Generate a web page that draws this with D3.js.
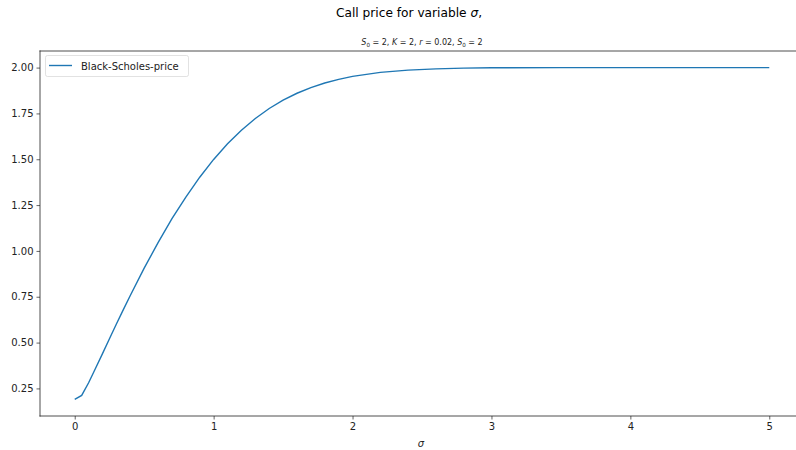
<!DOCTYPE html>
<html>
<head>
<meta charset="utf-8">
<script src="https://cdn.jsdelivr.net/npm/d3@7/dist/d3.min.js"></script>
<style>
  html, body { margin: 0; background: #fff; overflow: hidden; }
  svg { display: block; font-family: "DejaVu Sans", sans-serif; }
</style>
</head>
<body>
<svg id="chart"></svg>
<script>
// values
const sigma = [0, 0.05, 0.1, 0.15, 0.2, 0.25, 0.3, 0.35, 0.4, 0.5, 0.6, 0.7, 0.8, 0.9,
  1.0, 1.1, 1.2, 1.3, 1.4, 1.5, 1.6, 1.7, 1.8, 1.9, 2.0, 2.2, 2.4, 2.6, 2.8, 3.0, 3.5, 4.0, 4.5, 5.0];
const price = [0.190, 0.212, 0.281, 0.360, 0.440, 0.521, 0.601, 0.680, 0.757, 0.906, 1.045, 1.176, 1.294, 1.402,
  1.499, 1.584, 1.658, 1.722, 1.777, 1.822, 1.860, 1.891, 1.916, 1.936, 1.952, 1.974, 1.986, 1.993, 1.997, 1.999, 2.0, 2.0, 2.0, 2.0];
const xTicks = [0, 1, 2, 3, 4, 5];
const yTicks = [0.25, 0.5, 0.75, 1.0, 1.25, 1.5, 1.75, 2.0];

const width = 796, height = 450;
const margin = { top: 51, right: -8, bottom: 34, left: 40 };

const svg = d3.select("#chart").attr("width", width).attr("height", height);

const x = d3.scaleLinear().domain([-0.25, 5.25]).range([margin.left, width - margin.right]);
const pad = (d3.max(price) - d3.min(price)) * 0.05;
const y = d3.scaleLinear().domain([d3.min(price) - pad, d3.max(price) + pad])
  .range([height - margin.bottom, margin.top]);

// axes
const xAxis = svg.append("g")
  .attr("transform", `translate(0,${height - margin.bottom})`)
  .call(d3.axisBottom(x).tickValues(xTicks).tickFormat(d3.format("d")).tickSizeOuter(0).tickSize(3.5).tickPadding(3));
const yAxis = svg.append("g")
  .attr("transform", `translate(${margin.left},0)`)
  .call(d3.axisLeft(y).tickValues(yTicks).tickFormat(d3.format(".2f")).tickSizeOuter(0).tickSize(3.5).tickPadding(3));
[xAxis, yAxis].forEach(g => {
  g.select(".domain").remove();
  g.selectAll("text").attr("font-size", 10).attr("fill", "#222").attr("font-family", "DejaVu Sans");
  g.selectAll("line").attr("stroke", "#222").attr("stroke-width", 0.7);
});

// spines
const bottom = height - margin.bottom;
const spines = [
  [margin.left, margin.top, width + 2, margin.top],
  [margin.left, bottom, width + 2, bottom],
  [margin.left, margin.top, margin.left, bottom]
];
svg.append("g").selectAll("line").data(spines).join("line")
  .attr("x1", d => d[0]).attr("y1", d => d[1]).attr("x2", d => d[2]).attr("y2", d => d[3])
  .attr("stroke", "#222").attr("stroke-width", 0.8).attr("stroke-linecap", "square");

// the curve
const line = d3.line().x((d, i) => x(sigma[i])).y(d => y(d));
svg.append("path")
  .datum(price)
  .attr("fill", "none")
  .attr("stroke", "#1f77b4")
  .attr("stroke-width", 1.4)
  .attr("d", line);

// legend
const legend = svg.append("g");
legend.append("rect")
  .attr("x", 45.5).attr("y", 55.5).attr("width", 143).attr("height", 21).attr("rx", 2)
  .attr("fill", "#fff").attr("fill-opacity", 0.8).attr("stroke", "#d6d6d6").attr("stroke-width", 0.7);
legend.append("line")
  .attr("x1", 49).attr("x2", 72).attr("y1", 65.5).attr("y2", 65.5)
  .attr("stroke", "#1f77b4").attr("stroke-width", 1.4);
legend.append("text")
  .attr("x", 81).attr("y", 69.5).attr("font-size", 10).attr("fill", "#222")
  .text("Black-Scholes-price");

// titles
svg.append("text")
  .attr("x", 409).attr("y", 17).attr("text-anchor", "middle")
  .attr("font-size", 12.2).attr("fill", "#000")
  .html('Call price for variable <tspan font-style="italic">σ</tspan>,');

const sub = svg.append("text")
  .attr("x", (margin.left + width - margin.right) / 2).attr("y", 45)
  .attr("text-anchor", "middle").attr("font-size", 8).attr("fill", "#222");
sub.html('<tspan font-style="italic">S</tspan><tspan font-size="5.6" dy="1.5">0</tspan>' +
  '<tspan dy="-1.5"> = 2, </tspan><tspan font-style="italic">K</tspan> = 2, ' +
  '<tspan font-style="italic">r</tspan> = 0.02, <tspan font-style="italic">S</tspan>' +
  '<tspan font-size="5.6" dy="1.5">0</tspan><tspan dy="-1.5"> = 2</tspan>');

svg.append("text")
  .attr("x", 421).attr("y", 447).attr("text-anchor", "middle")
  .attr("font-size", 10).attr("font-style", "italic").attr("fill", "#222")
  .text("σ");
</script>
</body>
</html>
